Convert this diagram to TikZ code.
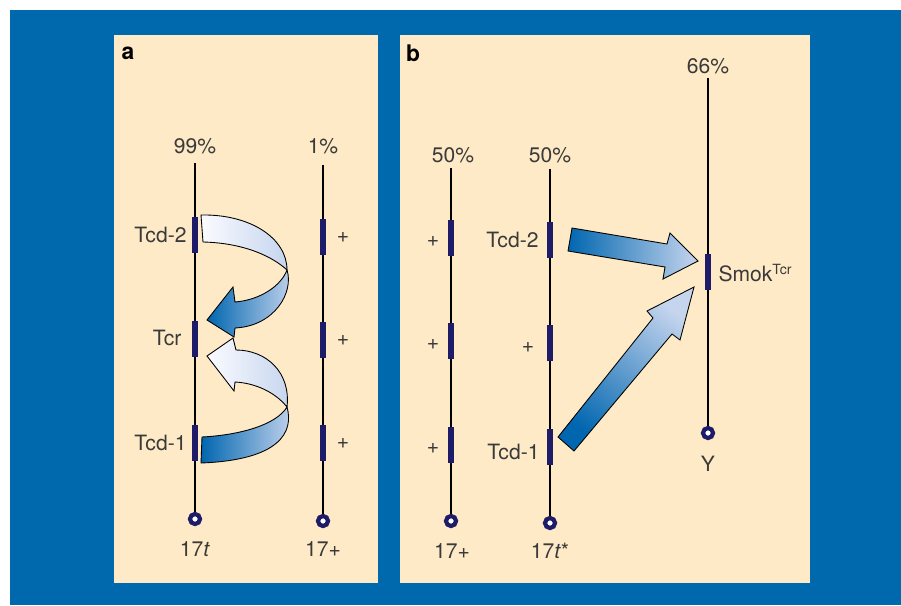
\documentclass[tikz,border=0pt]{standalone}
\usepackage{fontspec}
\setmainfont{TeX Gyre Heros}
\usetikzlibrary{positioning}
\definecolor{bgblue}{RGB}{0,104,173}
\definecolor{cream}{RGB}{254,234,198}
\definecolor{navy}{RGB}{30,28,105}
\definecolor{txtgray}{RGB}{58,58,58}
\definecolor{arrdark}{RGB}{0,102,175}
\definecolor{arrlight}{RGB}{198,213,238}
\definecolor{arrwhite}{RGB}{250,251,255}

\begin{document}
\begin{tikzpicture}[x=0.02cm,y=-0.02cm,line width=0.6pt,
  gene/.style={fill=navy,minimum width=0.12cm,minimum height=0.72cm,inner sep=0pt},
  cen/.style={circle,draw=navy,fill=white,line width=2.4pt,minimum size=0.2cm,inner sep=0pt},
  lbl/.style={font=\fontsize{12}{14}\selectfont,text=txtgray,inner sep=0pt},
  panel/.style={font=\fontsize{13}{15}\selectfont\bfseries,inner sep=0pt},
  ribbon/.style={draw=black,line width=0.5pt}]
\useasboundingbox (0,0) rectangle (901,605);
% 背景
\fill[bgblue] (10,10) rectangle (901,605);
\fill[cream] (114,35) rectangle (378,583);
\fill[cream] (400,35) rectangle (810,583);
\node[panel] (pa) at (128,53) {a};
\node[panel] (pb) at (413,53) {b};
% a：17t 染色体
\coordinate (a1top) at (195,163);
\node[cen] (c17t) at (195,519) {};
\draw (a1top) -- (c17t);
\node[gene] (atcd2) at (195,235) {};
\node[gene] (atcr) at (195,339) {};
\node[gene] (atcd1) at (195,443) {};
\node[lbl] (p99) at (195,146) {99\%};
\node[lbl] (n17t) at (195,549) {17\textit{t}};
\node[lbl,anchor=east] (latcd2) at (187,235) {Tcd-2};
\node[lbl,anchor=east] (latcr) at (182,338) {Tcr};
\node[lbl,anchor=east] (latcd1) at (187,443) {Tcd-1};
% a：17+ 染色体
\coordinate (a2top) at (323,165);
\node[cen] (ca2) at (323,521) {};
\draw (a2top) -- (ca2);
\foreach \y/\n in {237/1,340/2,443/3}{
  \node[gene] (ag\n) at (323,\y) {};
  \node[lbl] (ap\n) at (343,\y) {+};
}
\node[lbl] (p1) at (323,146) {1\%};
\node[lbl] (na2) at (323,549) {17+};
% a：上方弯箭头
\shadedraw[ribbon,left color=arrwhite,right color=arrlight]
  (201,215) .. controls (250,214) and (287,238) .. (287,270)
  .. controls (273,257) and (245,243) .. (203,242) -- cycle;
\shadedraw[ribbon,left color=arrdark,right color=arrlight]
  (287,270) .. controls (294,292) and (275,326) .. (235,328)
  -- (234,337) -- (207,320) -- (233,287) -- (235,302)
  .. controls (260,300) and (281,286) .. (287,270) -- cycle;
% a：下方弯箭头
\shadedraw[ribbon,left color=arrdark,right color=arrlight]
  (202,437) .. controls (240,435) and (276,425) .. (287,407)
  .. controls (294,432) and (280,460) .. (201,463) -- cycle;
\shadedraw[ribbon,left color=arrwhite,right color=arrlight]
  (235,382) -- (234,391) -- (207,356) -- (233,338) -- (236,350)
  .. controls (266,350) and (291,372) .. (287,407)
  .. controls (275,392) and (255,383) .. (235,382) -- cycle;
% b：17+ 染色体
\coordinate (b1top) at (451,168);
\node[cen] (cb1) at (451,521) {};
\draw (b1top) -- (cb1);
\foreach \y/\n in {238/1,341/2,445/3}{
  \node[gene] (bg\n) at (451,\y) {};
  \node[lbl] (bp\n) at (433,\y+3) {+};
}
\node[lbl] (pb1) at (453,155) {50\%};
\node[lbl] (nb1) at (452,551) {17+};
% b：17t* 染色体
\coordinate (b2top) at (550,169);
\node[cen] (cb2) at (550,523) {};
\draw (b2top) -- (cb2);
\node[gene] (btcd2) at (550,240) {};
\node[gene] (bg5) at (550,343) {};
\node[gene] (btcd1) at (550,447) {};
\node[lbl] (pb2) at (550,155) {50\%};
\node[lbl] (nb2) at (550,551) {17\textit{t}*};
\node[lbl,anchor=east] (lbtcd2) at (539,240) {Tcd-2};
\node[lbl] (bp5) at (528,347) {+};
\node[lbl,anchor=east] (lbtcd1) at (540,452) {Tcd-1};
% b：Y 染色体
\coordinate (ytop) at (708,78);
\node[cen] (cy) at (708,433) {};
\draw (ytop) -- (cy);
\node[gene] (smok) at (708,272) {};
\node[lbl] (p66) at (708,66) {66\%};
\node[lbl] (ny) at (708,464) {Y};
\node[lbl,anchor=west] (lsmok) at (718,273) {Smok\textsuperscript{Tcr}};
% b：直箭头
\shadedraw[ribbon,left color=arrdark,right color=arrlight]
  (572,228) -- (667,244) -- (670,233) -- (698,261) -- (663,279) -- (665,267) -- (568,251) -- cycle;
\shadedraw[ribbon,bottom color=arrdark,top color=arrlight,shading angle=-39]
  (558,437) -- (653,318) -- (647,311) -- (694,287) -- (680,340) -- (672,334) -- (574,451) -- cycle;
\end{tikzpicture}
\end{document}
